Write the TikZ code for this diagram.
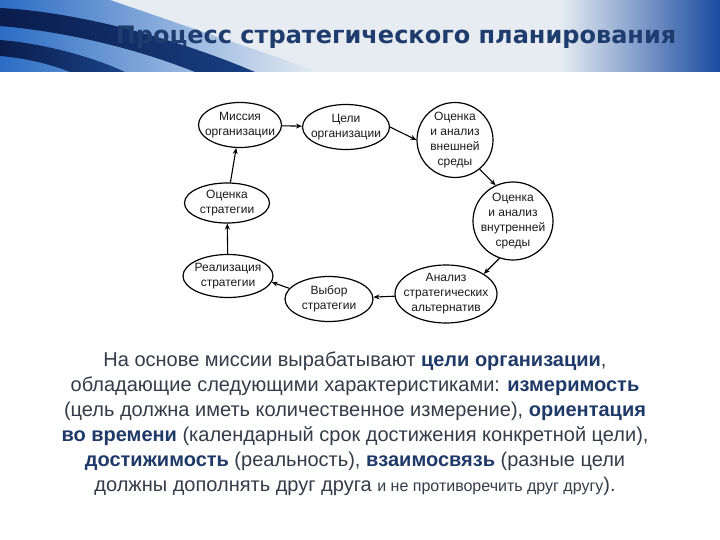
\documentclass[tikz,border=0pt]{standalone}
\usepackage{fontspec}
\setmainfont{Liberation Sans}
\newfontfamily\titlefont{DejaVu Sans}
\usetikzlibrary{shapes.geometric,arrows.meta}
\definecolor{navy}{HTML}{1F3A68}
\definecolor{titlec}{HTML}{1E3C6E}
\definecolor{bodyc}{HTML}{353B48}
\definecolor{ink}{HTML}{1A1A1A}
\definecolor{hdrbase}{HTML}{E6ECF2}
\definecolor{hdrblue}{HTML}{1A4BA0}
\definecolor{hdrcyan}{HTML}{86BCE4}
\definecolor{hdrdark}{HTML}{0A1C4C}
\definecolor{hdrmid}{HTML}{2B6CC4}
\newcommand{\bw}[1]{\textbf{\color{navy}#1}}
\begin{document}
\begin{tikzpicture}[x=1pt,y=-1pt,
  proc/.style={ellipse,draw=black,line width=1.2pt,inner sep=0pt},
  lbl/.style={align=center,inner sep=0pt,font=\fontsize{12}{15}\selectfont,text=ink},
  conn/.style={-{Stealth[length=6pt,width=5pt]},line width=1.1pt}]
\useasboundingbox (0,0) rectangle (720,540);
\fill[white] (0,0) rectangle (720,540);
% header banner
\fill[hdrbase] (0,0) rectangle (720,72);
\shade[left color=hdrbase,middle color=hdrcyan,right color=hdrblue] (560,0) rectangle (720,72);
\shade[left color=hdrmid,right color=hdrbase] (0,0) -- (110,0) -- (320,72) -- (0,72) -- cycle;
\shade[left color=hdrdark,right color=hdrdark!55!hdrmid]
  (0,8) .. controls (80,12) and (180,40) .. (255,72) -- (195,72)
  .. controls (140,50) and (70,32) .. (0,26) -- cycle;
\shade[left color=hdrdark,right color=hdrdark!50!hdrmid]
  (0,40) .. controls (50,44) and (100,60) .. (125,72) -- (70,72)
  .. controls (50,64) and (25,58) .. (0,56) -- cycle;
\node[name=title,font=\titlefont\bfseries\fontsize{24}{28}\selectfont,text=titlec] at (396,37)
  {Процесс стратегического планирования};
% cycle nodes
\node[proc,minimum width=83pt,minimum height=45pt] (mis) at (240,125) {};
\node[proc,minimum width=87pt,minimum height=45pt] (cel) at (346,127) {};
\node[proc,minimum width=76pt,minimum height=75pt] (vnesh) at (455,140) {};
\node[proc,minimum width=80pt,minimum height=78pt] (vnutr) at (513,221) {};
\node[proc,minimum width=102pt,minimum height=58pt] (analiz) at (446,294) {};
\node[proc,minimum width=88pt,minimum height=45pt] (vybor) at (329,299) {};
\node[proc,minimum width=90pt,minimum height=43pt] (real) at (228,276) {};
\node[proc,minimum width=85pt,minimum height=40pt] (ostr) at (227,203) {};
\node[lbl] (mis-t) at (mis) {Миссия\\организации};
\node[lbl] (cel-t) at (cel) {Цели\\организации};
\node[lbl] (vnesh-t) at (vnesh) {Оценка\\и анализ\\внешней\\среды};
\node[lbl] (vnutr-t) at (vnutr) {Оценка\\и анализ\\внутренней\\среды};
\node[lbl] (analiz-t) at (analiz) {Анализ\\стратегических\\альтернатив};
\node[lbl] (vybor-t) at (vybor) {Выбор\\стратегии};
\node[lbl] (real-t) at (real) {Реализация\\стратегии};
\node[lbl] (ostr-t) at (ostr) {Оценка\\стратегии};
% connectors
\draw[conn] (mis) -- (cel);
\draw[conn] (cel.east) -- (vnesh.west);
\draw[conn] (vnesh.-50) -- (vnutr.116);
\draw[conn] (vnutr.-110) -- (analiz.28);
\draw[conn] (analiz) -- (vybor);
\draw[conn] (vybor.165) -- (real.-8);
\draw[conn] (real) -- (ostr);
\draw[conn] (ostr) -- (mis);
% body text
\node[name=body,align=center,font=\fontsize{20}{25}\selectfont,text=bodyc] at (355,424)
  {На основе миссии вырабатывают \bw{цели организации},\\
   обладающие следующими характеристиками: \bw{измеримость}\\
   (цель должна иметь количественное измерение), \bw{ориентация}\\
   \bw{во времени} (календарный срок достижения конкретной цели),\\
   \bw{достижимость} (реальность), \bw{взаимосвязь} (разные цели\\
   должны дополнять друг друга {\fontsize{16}{25}\selectfont и не противоречить друг другу}).};
\end{tikzpicture}
\end{document}
